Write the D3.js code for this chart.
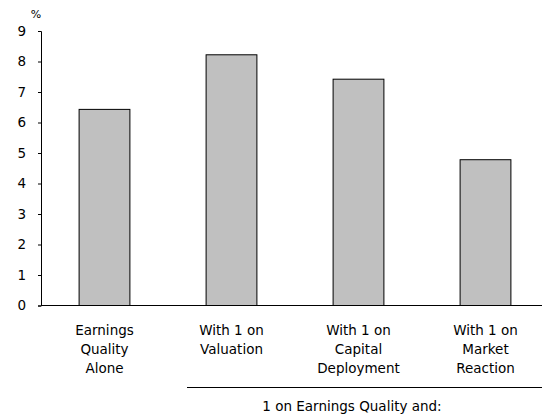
<!DOCTYPE html>
<html><head><meta charset="utf-8">
<script src="https://cdn.jsdelivr.net/npm/d3@7"></script>
<style>body{margin:0;background:#fff}svg{display:block}text{font-family:"DejaVu Sans",sans-serif;fill:#000}</style>
</head><body>
<svg id="c" width="542" height="415"></svg>
<script>
const categories = ["Earnings|Quality|Alone", "With 1 on|Valuation", "With 1 on|Capital|Deployment", "With 1 on|Market|Reaction"];
const values = [6.43, 8.22, 7.42, 4.78];
const yTicks = [0,1,2,3,4,5,6,7,8,9];
const unitLabel = "%";
const groupLabel = "1 on Earnings Quality and:";

const svg = d3.select("#c");
const x = d3.scaleBand().domain(categories).range([41, 549]).paddingInner(0.6).paddingOuter(0.3);
const y = d3.scaleLinear().domain([0, 9]).range([305.5, 31]);

// bars
svg.selectAll("rect.bar").data(values).enter().append("rect")
  .attr("x", (d,i)=>x(categories[i]))
  .attr("y", d=>y(d))
  .attr("width", x.bandwidth())
  .attr("height", d=>y(0)-y(d))
  .attr("fill", "#c0c0c0").attr("stroke", "#000").attr("stroke-width", 1);

// y axis
const ya = svg.append("g").attr("transform","translate(41,0)")
  .call(d3.axisLeft(y).tickValues(yTicks).tickSize(3).tickPadding(12).tickFormat(d3.format("d")));
ya.select(".domain").attr("stroke","#000");
ya.selectAll("text").style("font-size","13.5px").attr("font-family","DejaVu Sans");

// x axis line
svg.append("line").attr("x1",41).attr("x2",542).attr("y1",y(0)).attr("y2",y(0)).attr("stroke","#000");

// unit label
svg.append("text").attr("x",36).attr("y",18).attr("text-anchor","middle").style("font-size","11px").text(unitLabel);

// category labels
categories.forEach(c=>{
  const cx = x(c) + x.bandwidth()/2;
  const t = svg.append("text").attr("text-anchor","middle").style("font-size","13.5px");
  c.split("|").forEach((ln,j)=>{
    t.append("tspan").attr("x",cx).attr("y",335+j*19).text(ln);
  });
});

// group line and label
svg.append("line").attr("x1",187).attr("x2",542).attr("y1",387.5).attr("y2",387.5).attr("stroke","#000");
svg.append("text").attr("x",352).attr("y",411).attr("text-anchor","middle").style("font-size","13.5px").text(groupLabel);
</script>
</body></html>
